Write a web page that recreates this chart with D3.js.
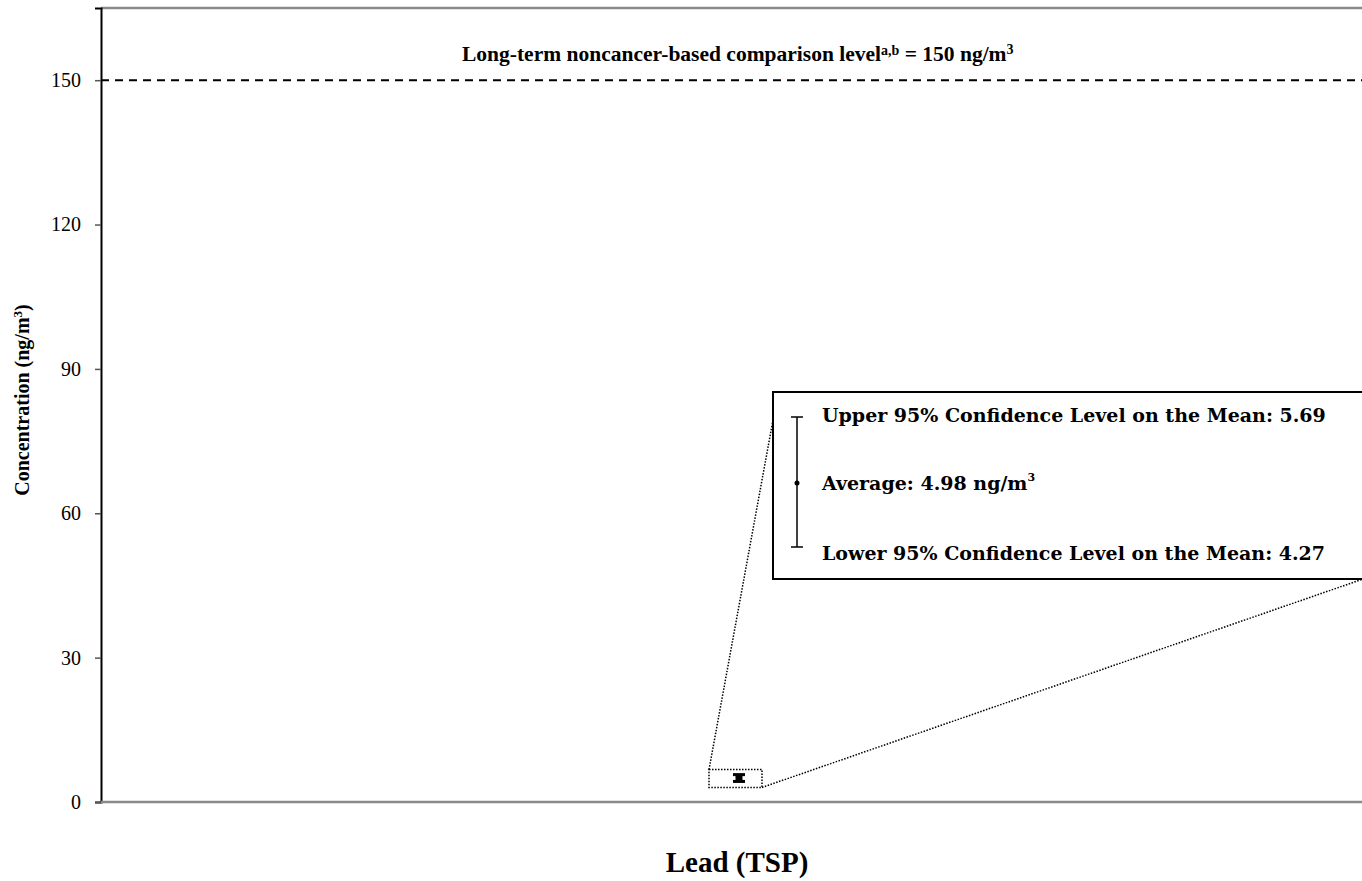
<!DOCTYPE html>
<html>
<head>
<meta charset="utf-8">
<script src="https://cdn.jsdelivr.net/npm/d3@7"></script>
<style>
  body { margin: 0; background: #fff; }
  svg { display: block; }
</style>
</head>
<body>
<svg id="chart" width="1362" height="881"></svg>
<script>
// data
var categories = ["Lead (TSP)"];
var averages = [4.98];
var upperCL = [5.69];
var lowerCL = [4.27];
var yTicks = [0, 30, 60, 90, 120, 150];
var comparisonLevel = 150;

var svg = d3.select("#chart");
var margin = { top: 8, right: -15, bottom: 79, left: 101 };
var width = 1362 - margin.left - margin.right,
    height = 881 - margin.top - margin.bottom;

var g = svg.append("g").attr("transform", "translate(" + margin.left + "," + margin.top + ")");

var x = d3.scaleBand().domain(categories).range([0, width]);
var y = d3.scaleLinear().domain([0, 165]).range([height, 0]);

var serif = "'Liberation Serif', 'Times New Roman', serif";

// top border (grey)
g.append("line")
    .attr("x1", 0).attr("x2", width)
    .attr("y1", 0).attr("y2", 0)
    .attr("stroke", "#8a8a8a").attr("stroke-width", 2.5);

// y axis
var yAxis = g.append("g")
    .call(d3.axisLeft(y).tickValues(yTicks).tickSize(6).tickPadding(14));
yAxis.select(".domain").attr("stroke", "#000").attr("stroke-width", 2);
yAxis.selectAll(".tick line").attr("stroke", "#555").attr("stroke-width", 1.5);
yAxis.selectAll(".tick text")
    .style("font-family", serif)
    .style("font-size", "20px")
    .attr("fill", "#000");

// x axis line (grey)
g.append("line")
    .attr("x1", 0).attr("x2", width)
    .attr("y1", y(0)).attr("y2", y(0))
    .attr("stroke", "#8a8a8a").attr("stroke-width", 2.5);

// comparison level dashed line
g.append("line")
    .attr("x1", 0).attr("x2", width)
    .attr("y1", y(comparisonLevel)).attr("y2", y(comparisonLevel))
    .attr("stroke", "#000").attr("stroke-width", 2)
    .attr("stroke-dasharray", "8,6");

var topLabel = svg.append("text")
    .attr("x", 462)
    .attr("y", 61)
    .style("font-family", serif)
    .style("font-size", "21.5px")
    .style("font-weight", "bold");
topLabel.append("tspan").text("Long-term noncancer-based comparison level");
topLabel.append("tspan").attr("dy", -6).style("font-size", "14px").text("a,b");
topLabel.append("tspan").attr("dy", 6).text(" = " + comparisonLevel + " ng/m");
topLabel.append("tspan").attr("dy", -7).style("font-size", "14px").text("3");

// error bar for each category
var cx = function(d) { return x(d) + x.bandwidth() / 2; };
categories.forEach(function(c, i) {
    var px = cx(c);
    g.append("line")
        .attr("x1", px).attr("x2", px)
        .attr("y1", y(upperCL[i])).attr("y2", y(lowerCL[i]))
        .attr("stroke", "#000").attr("stroke-width", 7);
    [upperCL[i], lowerCL[i]].forEach(function(v) {
        g.append("line")
            .attr("x1", px - 6).attr("x2", px + 6)
            .attr("y1", y(v)).attr("y2", y(v))
            .attr("stroke", "#000").attr("stroke-width", 3);
    });
    g.append("circle").attr("cx", px).attr("cy", y(averages[i])).attr("r", 2.5).attr("fill", "#000");

    // dotted zoom box around the error bar
    var bx0 = px - 30, bx1 = px + 23, by0 = y(upperCL[i]) - 5, by1 = y(lowerCL[i]) + 6;
    g.append("rect")
        .attr("x", bx0).attr("y", by0)
        .attr("width", bx1 - bx0).attr("height", by1 - by0)
        .attr("fill", "none").attr("stroke", "#000").attr("stroke-width", 1.5)
        .attr("stroke-dasharray", "1.5,1.5");

    // callout box
    var lx0 = 773 - margin.left, ly0 = 392 - margin.top, lx1 = 1363 - margin.left, ly1 = 579 - margin.top;
    g.append("line")
        .attr("x1", bx0).attr("y1", by0).attr("x2", lx0).attr("y2", 420 - margin.top)
        .attr("stroke", "#000").attr("stroke-width", 1.5).attr("stroke-dasharray", "1.5,1.5");
    g.append("line")
        .attr("x1", bx1).attr("y1", by1).attr("x2", lx1).attr("y2", ly1)
        .attr("stroke", "#000").attr("stroke-width", 1.5).attr("stroke-dasharray", "1.5,1.5");
    g.append("rect")
        .attr("x", lx0).attr("y", ly0)
        .attr("width", lx1 - lx0).attr("height", ly1 - ly0)
        .attr("fill", "#fff").attr("stroke", "#000").attr("stroke-width", 2);

    // legend glyph
    var gx = 797 - margin.left;
    var upY = 417 - margin.top, avY = 483 - margin.top, loY = 547 - margin.top;
    g.append("line").attr("x1", gx).attr("x2", gx).attr("y1", upY).attr("y2", loY)
        .attr("stroke", "#000").attr("stroke-width", 1.5);
    [upY, loY].forEach(function(yy) {
        g.append("line").attr("x1", gx - 6).attr("x2", gx + 6).attr("y1", yy).attr("y2", yy)
            .attr("stroke", "#000").attr("stroke-width", 1.5);
    });
    g.append("circle").attr("cx", gx).attr("cy", avY).attr("r", 2.5).attr("fill", "#000");

    var legFont = function(t) {
        return t.style("font-family", "'DejaVu Serif', serif")
            .style("font-size", "19px")
            .style("font-weight", "bold");
    };
    var tx = 822 - margin.left;
    legFont(g.append("text").attr("x", tx).attr("y", 422 - margin.top))
        .text("Upper 95% Confidence Level on the Mean: " + upperCL[i].toFixed(2));
    var avT = legFont(g.append("text").attr("x", tx).attr("y", 490 - margin.top));
    avT.append("tspan").text("Average: " + averages[i].toFixed(2) + " ng/m");
    avT.append("tspan").attr("dy", -9).style("font-size", "11px").text("3");
    legFont(g.append("text").attr("x", tx).attr("y", 560 - margin.top))
        .text("Lower 95% Confidence Level on the Mean: " + lowerCL[i].toFixed(2));
});

// axis titles
svg.append("text")
    .attr("transform", "translate(29,400) rotate(-90)")
    .attr("text-anchor", "middle")
    .style("font-family", serif)
    .style("font-size", "20px")
    .style("font-weight", "bold")
    .call(function(t) {
        t.append("tspan").text("Concentration (ng/m");
        t.append("tspan").attr("dy", -7).style("font-size", "13px").text("3");
        t.append("tspan").attr("dy", 7).text(")");
    });

svg.append("text")
    .attr("x", 737)
    .attr("y", 872)
    .attr("text-anchor", "middle")
    .style("font-family", serif)
    .style("font-size", "29px")
    .style("font-weight", "bold")
    .text(categories[0]);
</script>
</body>
</html>
